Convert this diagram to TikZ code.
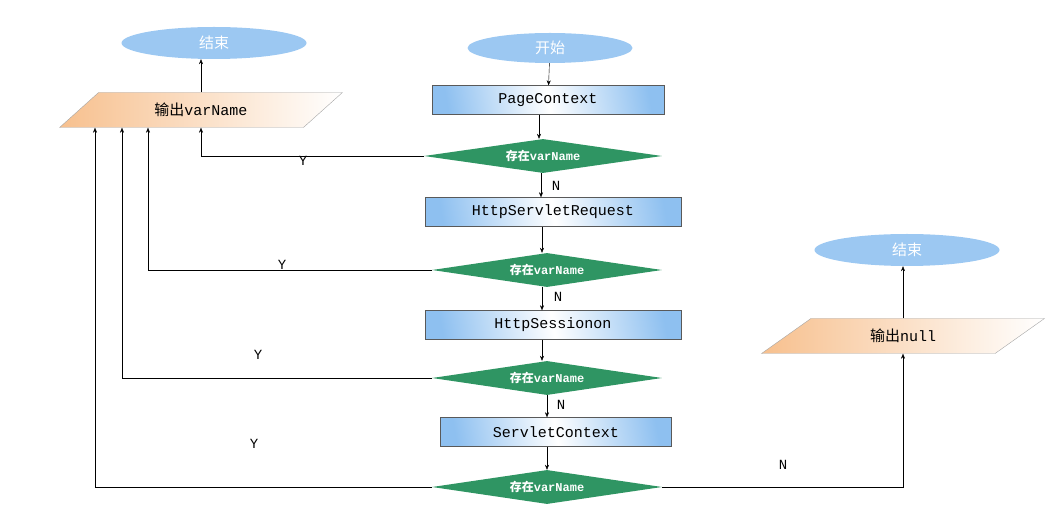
\documentclass[tikz,border=0pt]{standalone}
\usepackage{fontspec}
\setmainfont{Liberation Mono}
\newfontfamily\cjk{Noto Sans CJK SC}
\usetikzlibrary{shapes.geometric,arrows.meta}
\definecolor{ell}{HTML}{9CC8F2}
\definecolor{dia}{HTML}{2F9563}
\definecolor{org}{HTML}{F7C08E}
\definecolor{bl}{HTML}{8EC0F0}
\tikzset{
 ell/.style={ellipse,fill=ell,minimum width=185pt,minimum height=32pt,text=white,font=\cjk\fontsize{15}{15}\selectfont,inner sep=0pt},
 box/.style={rectangle,draw=gray!70!black,left color=bl,right color=bl,middle color=white,shading angle=100,minimum height=29pt,font=\fontsize{15}{15}\selectfont,inner sep=0pt},
 dia/.style={diamond,aspect=7,fill=dia,minimum width=230pt,minimum height=34pt,inner sep=0pt,text=white,font=\bfseries\fontsize{12}{12}\selectfont},
 par/.style={trapezium,trapezium left angle=38,trapezium right angle=142,draw=gray!70,left color=org,right color=white,minimum width=283pt,minimum height=35pt,trapezium stretches=true,font=\fontsize{15}{15}\selectfont,inner sep=0pt},
 ar/.style={-{Stealth[length=5pt,width=4pt]},black},
 lab/.style={font=\fontsize{14}{14}\selectfont}
}
\begin{document}
\begin{tikzpicture}[x=1pt,y=-1pt]
\useasboundingbox (0,0) rectangle (1050,510);
\node[ell] (e1) at (214,43) {结束};
\node[par] (p1) at (201,110) {{\cjk 输出}varName};
\node[ell,minimum width=165pt,minimum height=30pt] (s) at (550,48) {开始};
\node[box,minimum width=232pt] (b1) at (548,100) {PageContext};
\node[dia,minimum width=238pt] (d1) at (543,156) {{\cjk 存在}varName};
\node[box,minimum width=256pt] (b2) at (553,212) {HttpServletRequest};
\node[dia] (d2) at (547,270) {{\cjk 存在}varName};
\node[box,minimum width=256pt] (b3) at (553,325) {HttpSessionon};
\node[dia] (d3) at (547,378) {{\cjk 存在}varName};
\node[box,minimum width=231pt] (b4) at (556,432) {ServletContext};
\node[dia] (d4) at (547,487) {{\cjk 存在}varName};
\node[ell] (e2) at (907,250) {结束};
\node[par] (p2) at (903,336) {{\cjk 输出}null};
\draw[ar] (p1.north -| 201,0) -- (e1.south -| 201,0);
\draw[ar] (s) -- (b1);
\draw[ar] (b1.south -| 539,0) -- (d1.north -| 539,0);
\draw[ar] (d1.south -| 541,0) -- (b2.north -| 541,0);
\draw[ar] (b2.south -| 542,0) -- (d2.north -| 542,0);
\draw[ar] (d2.south -| 542,0) -- (b3.north -| 542,0);
\draw[ar] (b3.south -| 542,0) -- (d3.north -| 542,0);
\draw[ar] (d3.south -| 547,0) -- (b4.north -| 547,0);
\draw[ar] (b4.south -| 547,0) -- (d4.north -| 547,0);
\node[lab] (n1) at (556,186) {N};
\node[lab] (n2) at (558,297) {N};
\node[lab] (n3) at (561,405) {N};
\node[lab] (n4) at (783,465) {N};
\draw[ar] (d1.west) -| (p1.south -| 201,0);
\draw[ar] (d2.west) -| (p1.south -| 148,0);
\draw[ar] (d3.west) -| (p1.south -| 122,0);
\draw[ar] (d4.west) -| (p1.south -| 95,0);
\node[lab] (y1) at (303,161) {Y};
\node[lab] (y2) at (282,265) {Y};
\node[lab] (y3) at (258,355) {Y};
\node[lab] (y4) at (254,444) {Y};
\draw[ar] (d4.east) -| (p2.south -| 903,0);
\draw[ar] (p2.north -| 903,0) -- (e2.south -| 903,0);
\end{tikzpicture}
\end{document}
